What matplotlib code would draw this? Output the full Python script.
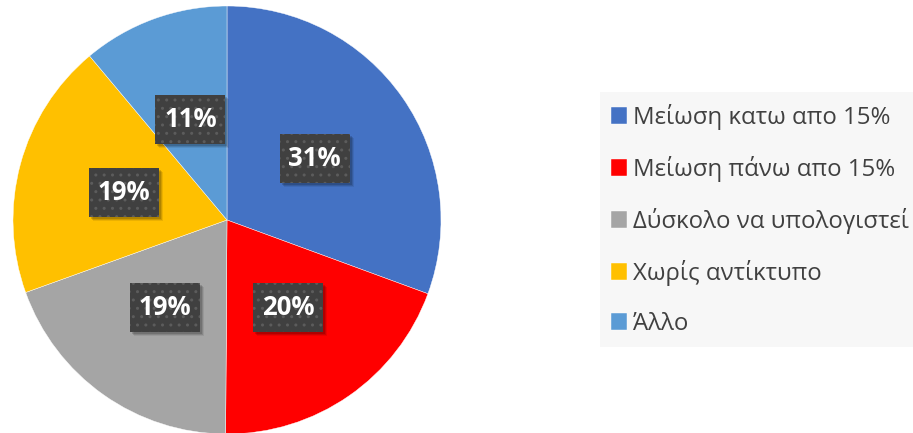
import matplotlib
matplotlib.use("Agg")
import matplotlib.pyplot as plt
from matplotlib.patches import Rectangle
import numpy as np

categories = ["Μείωση κατω απο 15%", "Μείωση πάνω απο 15%", "Δύσκολο να υπολογιστεί",
              "Χωρίς αντίκτυπο", "Άλλο"]
values = [30.6, 19.5, 19.4, 19.4, 11.1]
pct_labels = ["31%", "20%", "19%", "19%", "11%"]
colors = ["#4472C4", "#FF0000", "#A5A5A5", "#FFC000", "#5B9BD5"]

W, H = 913, 433
fig = plt.figure(figsize=(W / 100, H / 100), dpi=100)
fig.patch.set_facecolor("white")

cx, cy, r = 227, 220, 214
ax = fig.add_axes([(cx - r) / W, (H - cy - r) / H, 2 * r / W, 2 * r / H])
wedges, texts = ax.pie(values, labels=pct_labels, colors=colors, startangle=90,
                       counterclock=False, radius=1.0, labeldistance=0.5,
                       wedgeprops=dict(edgecolor="white", linewidth=0.3))
ax.set_xlim(-1, 1)
ax.set_ylim(-1, 1)
ax.set_aspect("equal")
ax.axis("off")

bw, bh = 70 / r, 49 / r
for t in texts:
    x, y = t.get_position()
    # shadow
    for k, a in [(4, 0.08), (3, 0.12), (2, 0.15)]:
        ax.add_patch(Rectangle((x - bw / 2 + k / r, y - bh / 2 - k / r), bw, bh,
                               facecolor="black", alpha=a, linewidth=0, zorder=3))
    ax.add_patch(Rectangle((x - bw / 2, y - bh / 2), bw, bh, facecolor="#404040",
                           edgecolor="#5c5c5c", hatch="..", linewidth=0, zorder=4))
    t.set_ha("center")
    t.set_va("center")
    t.set_color("white")
    t.set_fontweight("bold")
    t.set_fontsize(18.5)
    t.set_family(["Open Sans", "DejaVu Sans"])
    t.set_zorder(5)

# legend background
lx0, ly0, lx1, ly1 = 600, 92, 913, 347
fig.patches.append(Rectangle((lx0 / W, (H - ly1) / H), (lx1 - lx0) / W, (ly1 - ly0) / H,
                             transform=fig.transFigure, facecolor="#F7F7F7",
                             edgecolor="none", zorder=0))

leg = fig.legend(wedges, categories, loc="center left",
                 bbox_to_anchor=(611 / W, (H - 220) / H), frameon=False,
                 prop=dict(family=["Open Sans", "DejaVu Sans"], size=17.3),
                 handlelength=0.67, handleheight=0.67, handletextpad=0.25,
                 labelspacing=1.08, borderpad=0.0, borderaxespad=0)
for txt in leg.get_texts():
    txt.set_color("#404040")

fig.savefig("out.png", dpi=100)
